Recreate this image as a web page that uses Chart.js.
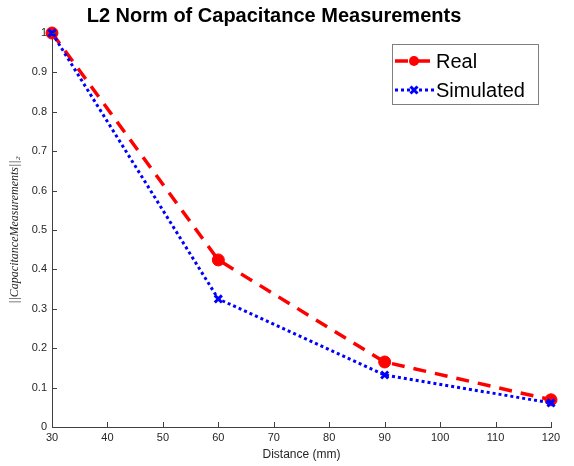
<!DOCTYPE html>
<html>
<head>
<meta charset="utf-8">
<script src="https://cdn.jsdelivr.net/npm/chart.js@4.4.1/dist/chart.umd.min.js"></script>
<style>
  html, body { margin: 0; padding: 0; background: #fff; }
  #wrap { width: 574px; height: 466px; }
</style>
</head>
<body>
<div id="wrap"><canvas id="chart" width="574" height="466"></canvas></div>
<script>
// ---- データ ----
const distances = [30, 60, 90, 120];
const realValues = [1, 0.424, 0.165, 0.069];
const simValues = [1, 0.325, 0.132, 0.061];
const seriesNames = ['Real', 'Simulated'];
const titleText = 'L2 Norm of Capacitance Measurements';
const xTitle = 'Distance (mm)';
const yTitle = '||CapacitanceMeasurements||\u2082';

const AXIS_COLOR = '#404040';
const TEXT_COLOR = '#262626';

function toPoints(xs, ys) {
    return xs.map((x, i) => ({ x, y: ys[i] }));
}

// ---- 独自描画: タイトル / 内向き目盛 / 凡例 ----
const matlabLook = {
    id: 'matlabLook',
    afterDraw(chart) {
        const ctx = chart.ctx;
        const area = chart.chartArea;
        const xs = chart.scales.x, ys = chart.scales.y;
        ctx.save();

        // 内向きの目盛線
        ctx.strokeStyle = AXIS_COLOR;
        ctx.lineWidth = 1;
        ctx.beginPath();
        xs.ticks.forEach(t => {
            const px = Math.round(xs.getPixelForValue(t.value)) + 0.5;
            ctx.moveTo(px, area.bottom);
            ctx.lineTo(px, area.bottom - 5);
        });
        ys.ticks.forEach(t => {
            const py = Math.round(ys.getPixelForValue(t.value)) + 0.5;
            ctx.moveTo(area.left, py);
            ctx.lineTo(area.left + 5, py);
        });
        ctx.stroke();

        // タイトル
        ctx.fillStyle = '#000';
        ctx.font = 'bold 20px "Liberation Sans", Arial, sans-serif';
        ctx.textAlign = 'center';
        ctx.textBaseline = 'middle';
        ctx.fillText(titleText, 274, 16);

        // 凡例
        const bx = 392, by = 44, bw = 146, bh = 60;
        ctx.fillStyle = '#fff';
        ctx.fillRect(bx, by, bw, bh);
        ctx.strokeStyle = '#7f7f7f';
        ctx.lineWidth = 1;
        ctx.strokeRect(bx + 0.5, by + 0.5, bw, bh);

        const rows = [
            { ds: chart.data.datasets[0], y: 61 },
            { ds: chart.data.datasets[1], y: 90 }
        ];
        rows.forEach(r => {
            ctx.strokeStyle = r.ds.borderColor;
            ctx.lineWidth = r.ds.borderWidth;
            ctx.setLineDash(r.ds.borderDash);
            ctx.beginPath();
            ctx.moveTo(395, r.y);
            ctx.lineTo(434, r.y);
            ctx.stroke();
            ctx.setLineDash([]);
            const mx = 414;
            if (r.ds.pointStyle === 'circle') {
                ctx.fillStyle = r.ds.pointBackgroundColor;
                ctx.beginPath();
                ctx.arc(mx, r.y, 5, 0, Math.PI * 2);
                ctx.fill();
            } else {
                ctx.lineWidth = 3;
                ctx.strokeStyle = r.ds.pointBorderColor;
                ctx.beginPath();
                ctx.moveTo(mx - 3.5, r.y - 3.5); ctx.lineTo(mx + 3.5, r.y + 3.5);
                ctx.moveTo(mx + 3.5, r.y - 3.5); ctx.lineTo(mx - 3.5, r.y + 3.5);
                ctx.stroke();
            }
            ctx.fillStyle = '#000';
            ctx.font = '20px "Liberation Sans", Arial, sans-serif';
            ctx.textAlign = 'left';
            ctx.textBaseline = 'middle';
            ctx.fillText(r.ds.label, 436, r.y + 1);
        });
        ctx.restore();
    }
};

new Chart(document.getElementById('chart').getContext('2d'), {
    type: 'line',
    data: {
        datasets: [
            {
                label: seriesNames[0],
                data: toPoints(distances, realValues),
                borderColor: '#ff0000',
                borderWidth: 3.5,
                borderDash: [13, 9],
                pointStyle: 'circle',
                pointRadius: 6,
                pointBackgroundColor: '#ff0000',
                pointBorderColor: '#ff0000',
                pointBorderWidth: 1,
                tension: 0,
                clip: false,
                order: 1
            },
            {
                label: seriesNames[1],
                data: toPoints(distances, simValues),
                borderColor: '#0000ff',
                borderWidth: 3,
                borderDash: [3, 3],
                pointStyle: 'crossRot',
                pointRadius: 5,
                pointBackgroundColor: '#0000ff',
                pointBorderColor: '#0000ff',
                pointBorderWidth: 3,
                tension: 0,
                clip: false,
                order: 0
            }
        ]
    },
    options: {
        responsive: false,
        animation: false,
        layout: { padding: { left: 0, right: 23, top: 33, bottom: 0 } },
        plugins: {
            legend: { display: false },
            title: { display: false },
            tooltip: { enabled: false }
        },
        scales: {
            x: {
                type: 'linear',
                min: 30, max: 120,
                ticks: {
                    stepSize: 10,
                    color: TEXT_COLOR,
                    padding: 4,
                    font: { family: '"Liberation Sans", Arial, sans-serif', size: 11 },
                    maxRotation: 0
                },
                grid: { display: false, drawTicks: false },
                border: { display: true, color: AXIS_COLOR, width: 1 },
                title: {
                    display: true,
                    text: xTitle,
                    color: TEXT_COLOR,
                    padding: { top: 0, bottom: 4 },
                    font: { family: '"Liberation Sans", Arial, sans-serif', size: 12 }
                },
                afterFit: s => { s.height = 39; }
            },
            y: {
                min: 0, max: 1,
                ticks: {
                    stepSize: 0.1,
                    color: TEXT_COLOR,
                    padding: 5,
                    font: { family: '"Liberation Sans", Arial, sans-serif', size: 11 },
                    callback: v => String(Math.round(v * 10) / 10)
                },
                grid: { display: false, drawTicks: false },
                border: { display: true, color: AXIS_COLOR, width: 1 },
                title: {
                    display: true,
                    text: yTitle,
                    color: TEXT_COLOR,
                    padding: { top: 8, bottom: 0 },
                    font: { family: '"Liberation Serif", "DejaVu Serif", serif', size: 12, style: 'italic' }
                },
                afterFit: s => { s.width = 52; }
            }
        }
    },
    plugins: [matlabLook]
});
</script>
</body>
</html>
